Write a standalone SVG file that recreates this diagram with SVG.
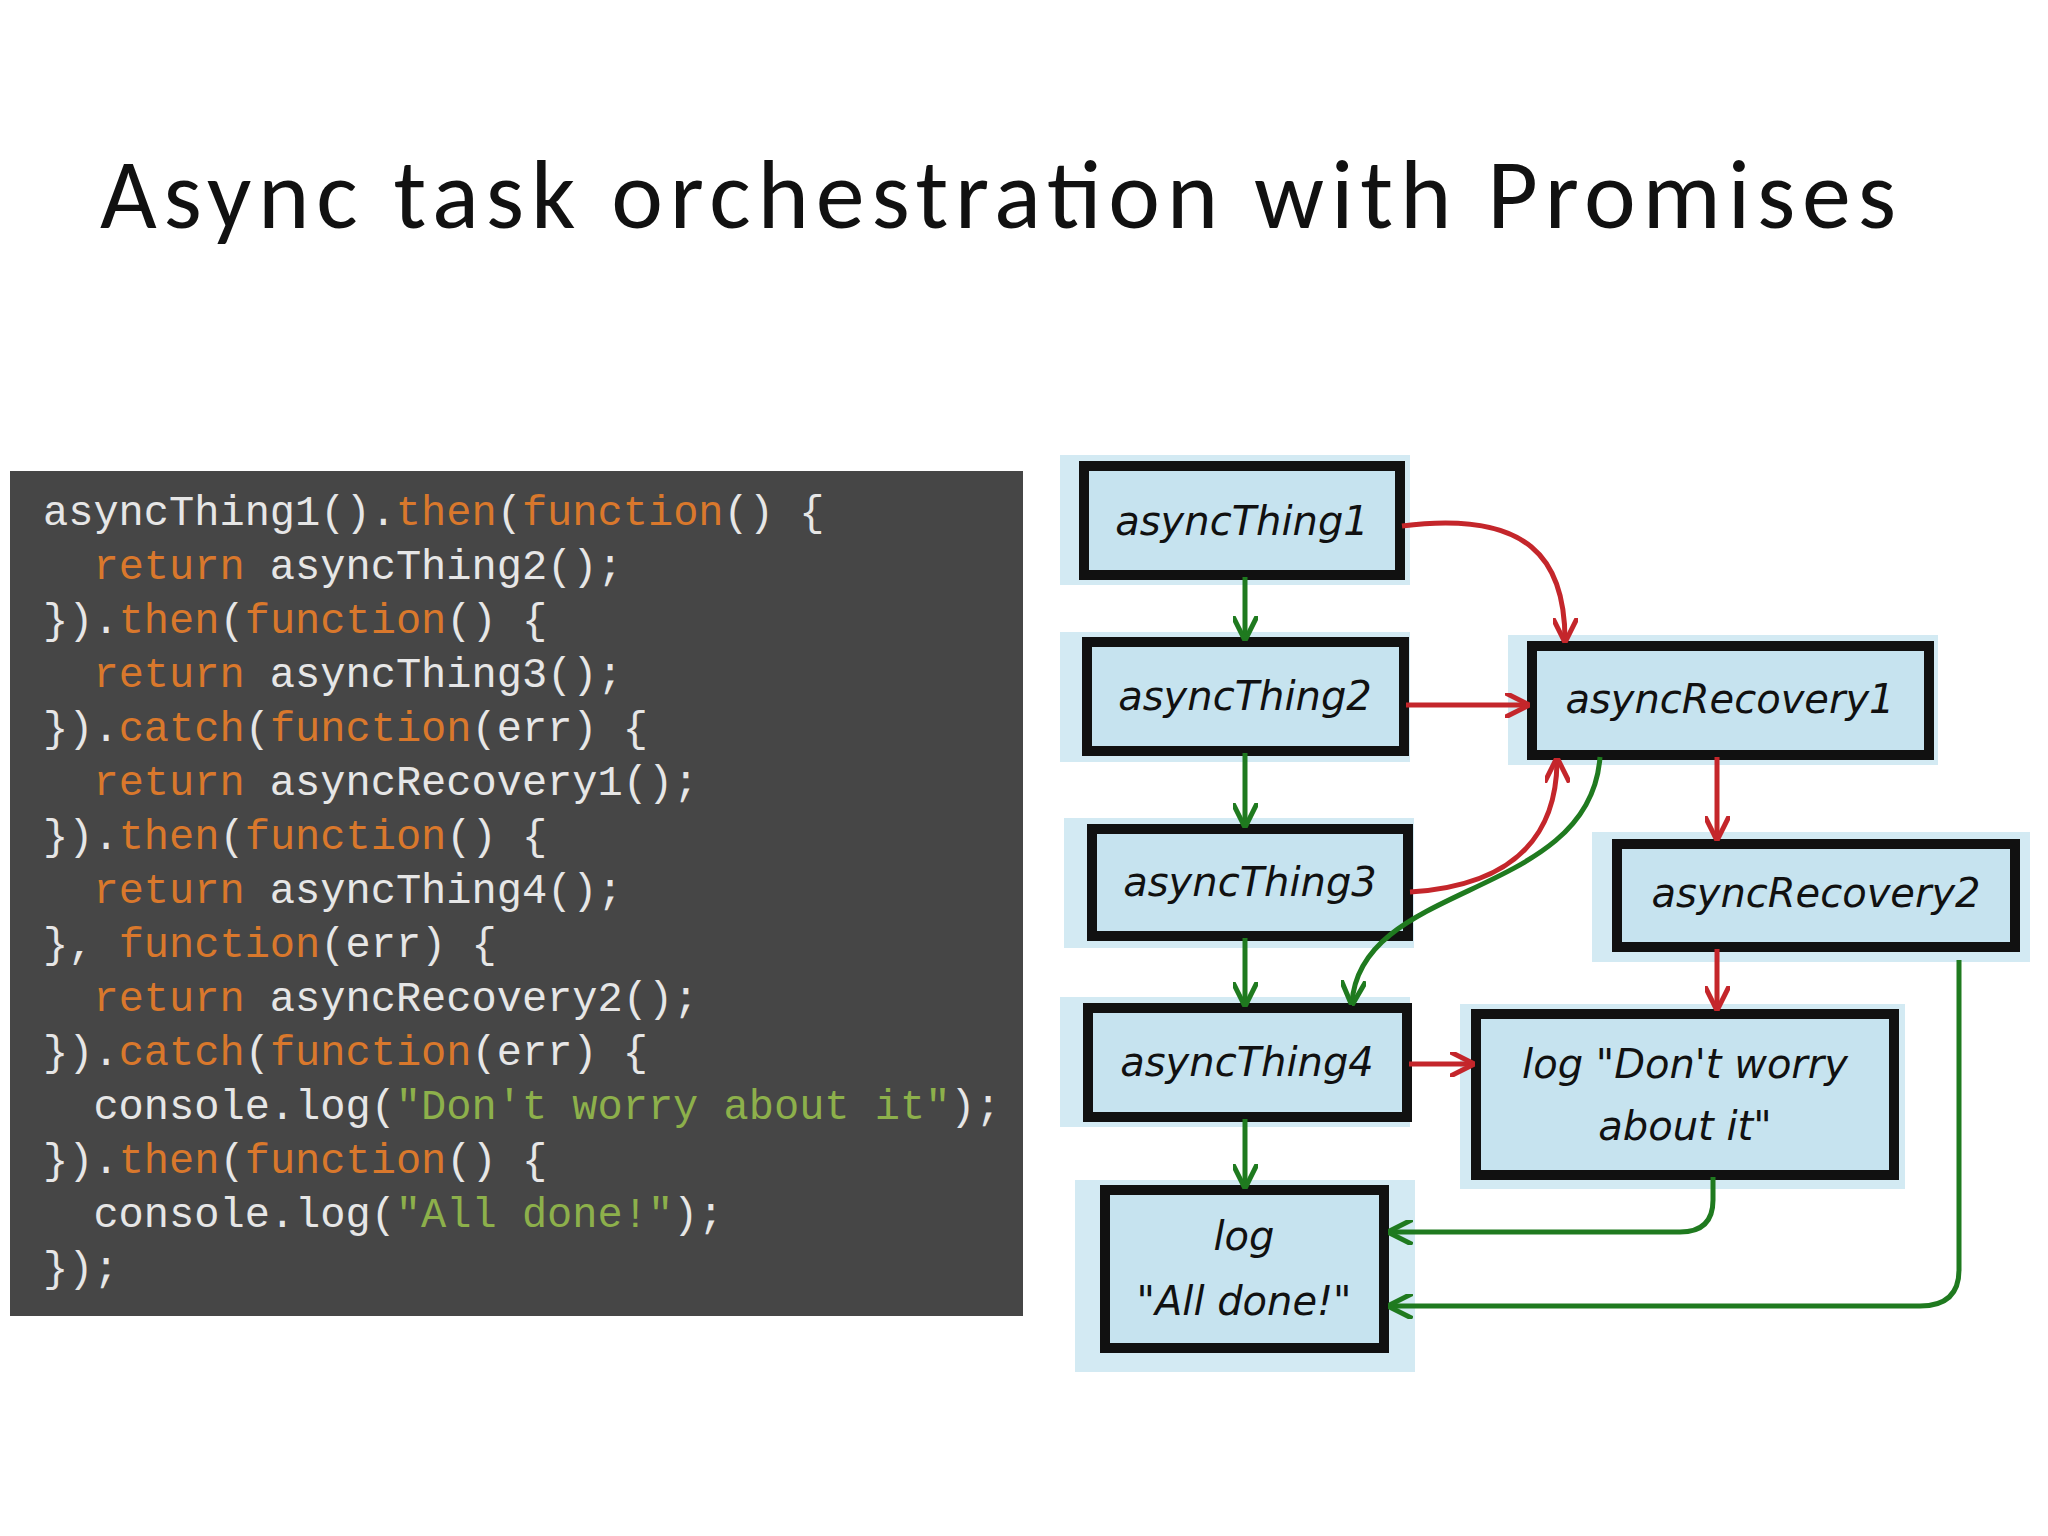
<svg xmlns="http://www.w3.org/2000/svg" width="2048" height="1536" viewBox="0 0 2048 1536">
<style>
.code{font-family:"Liberation Mono","DejaVu Sans Mono",monospace;font-size:42px;fill:#e6e6e6}
.k{fill:#d9782c}.s{fill:#8db04b}
.box{fill:#c6e3ef;stroke:#111;stroke-width:10}
.bg{fill:#d3eaf3}
.lbl{font-family:"DejaVu Sans",sans-serif;font-size:40px;fill:#111;font-style:italic}
.red{fill:none;stroke:#c4262b;stroke-width:5}
.grn{fill:none;stroke:#1f7a1f;stroke-width:5}
</style>
<defs>
<marker id="ar" viewBox="0 0 10 10" refX="9" refY="5" markerWidth="5" markerHeight="5" orient="auto"><path d="M0,0 L10,5 L0,10" fill="none" stroke="#c4262b" stroke-width="2"/></marker>
<marker id="ag" viewBox="0 0 10 10" refX="9" refY="5" markerWidth="5" markerHeight="5" orient="auto"><path d="M0,0 L10,5 L0,10" fill="none" stroke="#1f7a1f" stroke-width="2"/></marker>
</defs>
<rect width="2048" height="1536" fill="#fff"/>
<text x="100" y="228" font-family="Carlito,'Open Sans',sans-serif" font-size="98" fill="#111" textLength="1796">Async task orchestration with Promises</text>
<g id="code">
<rect x="10" y="471" width="1013" height="845" fill="#464646"/>
<text class="code" xml:space="preserve">
<tspan x="43" y="525">asyncThing1().<tspan class="k">then</tspan>(<tspan class="k">function</tspan>() {</tspan>
<tspan x="43" y="579">  <tspan class="k">return</tspan> asyncThing2();</tspan>
<tspan x="43" y="633">}).<tspan class="k">then</tspan>(<tspan class="k">function</tspan>() {</tspan>
<tspan x="43" y="687">  <tspan class="k">return</tspan> asyncThing3();</tspan>
<tspan x="43" y="741">}).<tspan class="k">catch</tspan>(<tspan class="k">function</tspan>(err) {</tspan>
<tspan x="43" y="795">  <tspan class="k">return</tspan> asyncRecovery1();</tspan>
<tspan x="43" y="849">}).<tspan class="k">then</tspan>(<tspan class="k">function</tspan>() {</tspan>
<tspan x="43" y="903">  <tspan class="k">return</tspan> asyncThing4();</tspan>
<tspan x="43" y="957">}, <tspan class="k">function</tspan>(err) {</tspan>
<tspan x="43" y="1011">  <tspan class="k">return</tspan> asyncRecovery2();</tspan>
<tspan x="43" y="1065">}).<tspan class="k">catch</tspan>(<tspan class="k">function</tspan>(err) {</tspan>
<tspan x="43" y="1119">  console.log(<tspan class="s">"Don't worry about it"</tspan>);</tspan>
<tspan x="43" y="1173">}).<tspan class="k">then</tspan>(<tspan class="k">function</tspan>() {</tspan>
<tspan x="43" y="1227">  console.log(<tspan class="s">"All done!"</tspan>);</tspan>
<tspan x="43" y="1281">});</tspan>
</text>
</g>
<g id="asyncThing1"><rect class="bg" x="1060" y="455" width="350" height="130"/><rect class="box" x="1084" y="466" width="316" height="109"/><text class="lbl" x="1242" y="535" text-anchor="middle">asyncThing1</text></g>
<g id="asyncThing2"><rect class="bg" x="1060" y="632" width="350" height="130"/><rect class="box" x="1087" y="642" width="317" height="109"/><text class="lbl" x="1245" y="710" text-anchor="middle">asyncThing2</text></g>
<g id="asyncThing3"><rect class="bg" x="1064" y="818" width="350" height="130"/><rect class="box" x="1092" y="829" width="316" height="107"/><text class="lbl" x="1250" y="896" text-anchor="middle">asyncThing3</text></g>
<g id="asyncThing4"><rect class="bg" x="1060" y="997" width="350" height="130"/><rect class="box" x="1088" y="1008" width="319" height="109"/><text class="lbl" x="1247" y="1076" text-anchor="middle">asyncThing4</text></g>
<g id="allDone"><rect class="bg" x="1075" y="1180" width="340" height="192"/><rect class="box" x="1105" y="1190" width="279" height="158"/><text class="lbl" x="1244" y="1250" text-anchor="middle">log</text><text class="lbl" x="1244" y="1315" text-anchor="middle">"All done!"</text></g>
<g id="asyncRecovery1"><rect class="bg" x="1508" y="635" width="430" height="130"/><rect class="box" x="1532" y="646" width="397" height="109"/><text class="lbl" x="1730" y="713" text-anchor="middle">asyncRecovery1</text></g>
<g id="asyncRecovery2"><rect class="bg" x="1592" y="832" width="438" height="130"/><rect class="box" x="1617" y="844" width="398" height="103"/><text class="lbl" x="1816" y="907" text-anchor="middle">asyncRecovery2</text></g>
<g id="dontWorry"><rect class="bg" x="1460" y="1004" width="445" height="185"/><rect class="box" x="1476" y="1014" width="418" height="161"/><text class="lbl" x="1685" y="1078" text-anchor="middle">log "Don't worry</text><text class="lbl" x="1685" y="1140" text-anchor="middle">about it"</text></g>
<g id="connectors">
<path class="grn" d="M1245,577 V638" marker-end="url(#ag)"/>
<path class="grn" d="M1245,753 V825" marker-end="url(#ag)"/>
<path class="grn" d="M1245,938 V1004" marker-end="url(#ag)"/>
<path class="grn" d="M1245,1119 V1186" marker-end="url(#ag)"/>
<path class="red" d="M1402,526 C1530,510 1565,560 1565,640" marker-end="url(#ar)"/>
<path class="red" d="M1406,705 H1527" marker-end="url(#ar)"/>
<path class="red" d="M1410,892 C1520,885 1557,830 1557,760" marker-end="url(#ar)"/>
<path class="red" d="M1717,757 V838" marker-end="url(#ar)"/>
<path class="red" d="M1717,949 V1008" marker-end="url(#ar)"/>
<path class="red" d="M1409,1064 H1472" marker-end="url(#ar)"/>
<path class="grn" d="M1600,757 C1590,900 1360,880 1352,1003" marker-end="url(#ag)"/>
<path class="grn" d="M1713,1177 V1200 Q1713,1232 1680,1232 H1390" marker-end="url(#ag)"/>
<path class="grn" d="M1959,960 V1270 Q1959,1306 1920,1306 H1390" marker-end="url(#ag)"/>
</g>
</svg>
